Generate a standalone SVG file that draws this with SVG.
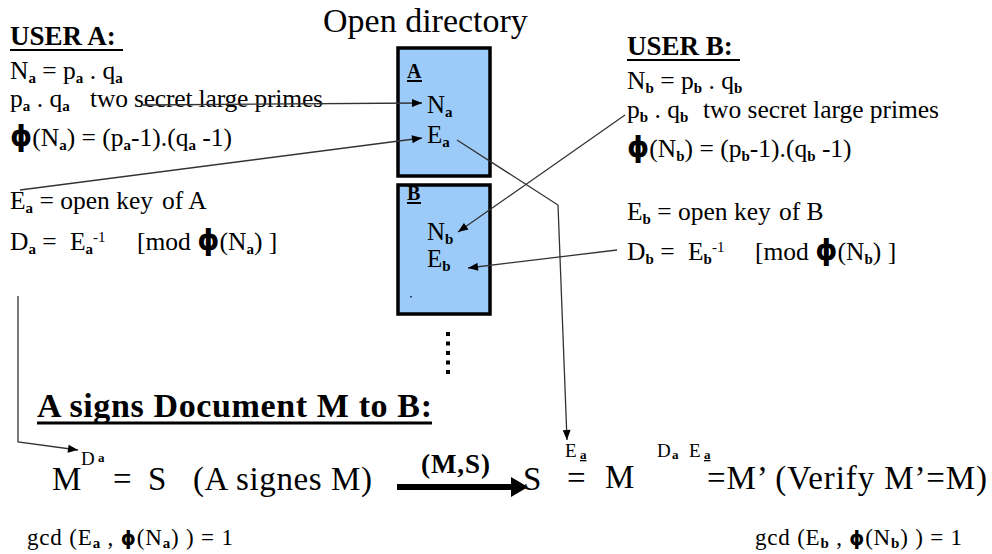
<svg xmlns="http://www.w3.org/2000/svg" width="992" height="554" viewBox="0 0 992 554">
  <defs>
    <marker id="ah" viewBox="0 0 10 8" refX="10" refY="4" markerWidth="11" markerHeight="8" markerUnits="userSpaceOnUse" orient="auto">
      <path d="M0,0 L10,4 L0,8 z" fill="#000"/>
    </marker>
  </defs>
  <style>
    text { font-family: "Liberation Serif", "Times New Roman", serif; fill: #000; }
    .f24 { font-size: 25.5px; }
    .sb { font-size: 15px; font-weight: bold; }
    .phi { font-family: "DejaVu Sans", sans-serif; font-weight: bold; }
    .hd { font-weight: bold; }
    .ul { stroke: #000; stroke-width: 2; }
    .box { fill: #9CCBF9; stroke: #000; stroke-width: 3.5; }
    .conn { stroke: #333; stroke-width: 1.3; fill: none; }
    .big { font-size: 33px; }
    .g { font-size: 23px; }
  </style>
  <rect width="992" height="554" fill="#fff"/>

  <!-- User A -->
  <g id="userA">
    <text x="10" y="45" font-size="27" class="hd">USER A:</text>
    <line class="ul" x1="10" y1="50" x2="123" y2="50"/>
    <text class="f24" x="10" y="79">N<tspan class="sb" dy="4">a</tspan><tspan dy="-4"> = p</tspan><tspan class="sb" dy="4">a</tspan><tspan dy="-4"> . q</tspan><tspan class="sb" dy="4">a</tspan></text>
    <text class="f24" x="10" y="107">p<tspan class="sb" dy="4">a</tspan><tspan dy="-4"> . q</tspan><tspan class="sb" dy="4">a</tspan><tspan x="90" dy="-4" textLength="233">two secret large primes</tspan></text>
    <text class="f24" x="10" y="146"><tspan class="phi" font-size="28">ϕ</tspan><tspan>(N</tspan><tspan class="sb" dy="4">a</tspan><tspan dy="-4">) = (p</tspan><tspan class="sb" dy="4">a</tspan><tspan dy="-4">-1).(q</tspan><tspan class="sb" dy="4">a</tspan><tspan dy="-4"> -1)</tspan></text>
    <text class="f24" x="10" y="209">E<tspan class="sb" dy="4">a</tspan><tspan dy="-4"> = open key</tspan><tspan x="162">of A</tspan></text>
    <text class="f24" x="10" y="250">D<tspan class="sb" dy="4">a</tspan><tspan dy="-4"> = </tspan><tspan x="70">E</tspan><tspan class="sb" dy="4">a</tspan><tspan font-size="15" dy="-12">-1</tspan><tspan x="137" dy="8">[mod </tspan><tspan class="phi" font-size="28">ϕ</tspan><tspan>(N</tspan><tspan class="sb" dy="4">a</tspan><tspan dy="-4">) ]</tspan></text>
  </g>

  <!-- User B -->
  <g id="userB">
    <text x="627" y="55" font-size="27" class="hd">USER B:</text>
    <line class="ul" x1="627" y1="60" x2="740" y2="60"/>
    <text class="f24" x="627" y="89">N<tspan class="sb" dy="4">b</tspan><tspan dy="-4"> = p</tspan><tspan class="sb" dy="4">b</tspan><tspan dy="-4"> . q</tspan><tspan class="sb" dy="4">b</tspan></text>
    <text class="f24" x="627" y="118">p<tspan class="sb" dy="4">b</tspan><tspan dy="-4"> . q</tspan><tspan class="sb" dy="4">b</tspan><tspan x="703" dy="-4" textLength="236">two secret large primes</tspan></text>
    <text class="f24" x="627" y="157"><tspan class="phi" font-size="28">ϕ</tspan><tspan>(N</tspan><tspan class="sb" dy="4">b</tspan><tspan dy="-4">) = (p</tspan><tspan class="sb" dy="4">b</tspan><tspan dy="-4">-1).(q</tspan><tspan class="sb" dy="4">b</tspan><tspan dy="-4"> -1)</tspan></text>
    <text class="f24" x="627" y="220">E<tspan class="sb" dy="4">b</tspan><tspan dy="-4"> = open key</tspan><tspan x="779">of B</tspan></text>
    <text class="f24" x="627" y="260">D<tspan class="sb" dy="4">b</tspan><tspan dy="-4"> = </tspan><tspan x="688">E</tspan><tspan class="sb" dy="4">b</tspan><tspan font-size="15" dy="-12">-1</tspan><tspan x="755" dy="8">[mod </tspan><tspan class="phi" font-size="28">ϕ</tspan><tspan>(N</tspan><tspan class="sb" dy="4">b</tspan><tspan dy="-4">) ]</tspan></text>
  </g>

  <!-- Open directory -->
  <g id="directory">
    <text x="323" y="32" font-size="34">Open directory</text>
  </g>
  <g id="dirA">
    <rect class="box" x="398" y="48" width="92" height="128"/>
    <text x="407" y="78" font-size="20" class="hd">A</text>
    <line class="ul" x1="407" y1="81" x2="422" y2="81"/>
    <text x="427" y="113" font-size="25">N<tspan class="sb" dy="4">a</tspan></text>
    <text x="427" y="143" font-size="25">E<tspan class="sb" dy="4">a</tspan></text>
  </g>
  <g id="dirB">
    <rect class="box" x="398" y="185" width="92" height="129"/>
    <text x="407" y="200" font-size="20" class="hd">B</text>
    <line class="ul" x1="407" y1="203" x2="421" y2="203"/>
    <text x="427" y="240" font-size="25">N<tspan class="sb" dy="4">b</tspan></text>
    <text x="427" y="267" font-size="25">E<tspan class="sb" dy="4">b</tspan></text>
    <rect x="410" y="296" width="2" height="1.5" fill="#2a3a8a"/>
  </g>
  <g id="more" fill="#000">
    <rect x="446" y="332" width="4" height="4"/>
    <rect x="446" y="341.5" width="4" height="4"/>
    <rect x="446" y="351" width="4" height="4"/>
    <rect x="446" y="360.5" width="4" height="4"/>
    <rect x="446" y="370" width="4" height="4"/>
  </g>

  <!-- Signing -->
  <g id="signing">
    <text x="37" y="417" font-size="34" class="hd" textLength="395">A signs Document M to B:</text>
    <line x1="37" y1="423" x2="432" y2="423" stroke="#000" stroke-width="3"/>
    <text class="big" x="52" y="490">M</text>
    <text x="81" y="465" font-size="19">D</text>
    <text x="98" y="462" font-size="13" class="hd">a</text>
    <text class="big" y="490"><tspan x="113">=</tspan><tspan x="148">S</tspan><tspan x="193" textLength="179">(A signes M)</tspan></text>
    <text x="421" y="473" font-size="27" class="hd" textLength="69">(M,S)</text>
    <line x1="397" y1="487" x2="514" y2="487" stroke="#000" stroke-width="6"/>
    <polygon points="511,477 528,487 511,497" fill="#000"/>
    <text class="big" x="523" y="490">S</text>
    <text x="565" y="457" font-size="19">E</text>
    <text x="580" y="459" font-size="13" class="hd" text-decoration="underline">a</text>
    <text class="big" x="567" y="489">=</text>
    <text class="big" x="605" y="488">M</text>
    <text x="657" y="457" font-size="19">D</text>
    <text x="672" y="459" font-size="13" class="hd">a</text>
    <text x="689" y="457" font-size="19">E</text>
    <text x="704" y="459" font-size="13" class="hd" text-decoration="underline">a</text>
    <text class="big" x="707" y="489" textLength="280">=M’ (Verify  M’=M)</text>
  </g>

  <g id="gcdA">
    <text class="g" y="545" x="27" textLength="206">gcd (E<tspan class="sb" font-size="14" dy="3">a</tspan><tspan dy="-3"> , </tspan><tspan class="phi" font-size="19">ϕ</tspan><tspan>(N</tspan><tspan class="sb" font-size="14" dy="3">a</tspan><tspan dy="-3">) ) = 1</tspan></text>
  </g>
  <g id="gcdB">
    <text class="g" y="545" x="755" textLength="207">gcd (E<tspan class="sb" font-size="14" dy="3">b</tspan><tspan dy="-3"> , </tspan><tspan class="phi" font-size="19">ϕ</tspan><tspan>(N</tspan><tspan class="sb" font-size="14" dy="3">b</tspan><tspan dy="-3">) ) = 1</tspan></text>
  </g>

  <!-- Connectors -->
  <g id="connectors">
    <path class="conn" d="M143,105 L422,103" marker-end="url(#ah)"/>
    <path class="conn" d="M20,190 L422,138" marker-end="url(#ah)"/>
    <path class="conn" d="M457,140 L558,205 L567,440" marker-end="url(#ah)"/>
    <path class="conn" d="M625,115 L458,232" marker-end="url(#ah)"/>
    <path class="conn" d="M617,250 L468,268" marker-end="url(#ah)"/>
    <path class="conn" d="M18,296 L18,442 L78,450" marker-end="url(#ah)"/>
  </g>
</svg>
